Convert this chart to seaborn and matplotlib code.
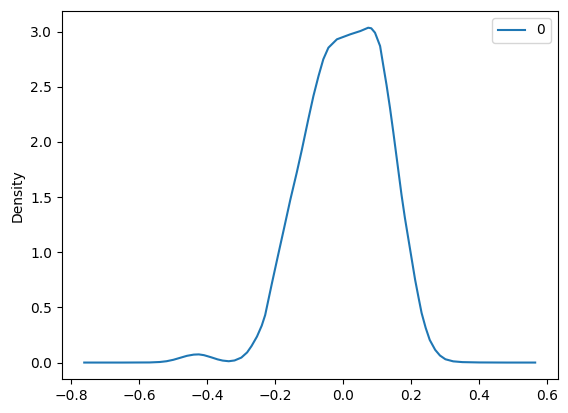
import numpy as np
import pandas as pd
import matplotlib
matplotlib.use("Agg")
import matplotlib.pyplot as plt
import seaborn as sns

# kde curve (x, density)
x_vals = [-0.762, -0.65, -0.57, -0.54, -0.52, -0.50, -0.48, -0.46, -0.44, -0.425,
          -0.41, -0.39, -0.37, -0.355, -0.337, -0.32, -0.30, -0.283, -0.27, -0.254,
          -0.24, -0.23, -0.21, -0.1915, -0.174, -0.156, -0.137, -0.122, -0.103, -0.088,
          -0.073, -0.059, -0.044, -0.019, 0.020, 0.050, 0.073, 0.082, 0.093, 0.108,
          0.117, 0.127, 0.137, 0.147, 0.157, 0.171, 0.181, 0.196, 0.211, 0.221,
          0.230, 0.242, 0.254, 0.270, 0.284, 0.300, 0.323, 0.350, 0.400, 0.480,
          0.564]
density = [0.0, 0.0, 0.001, 0.005, 0.012, 0.025, 0.043, 0.061, 0.072, 0.074,
           0.067, 0.049, 0.029, 0.018, 0.012, 0.019, 0.045, 0.092, 0.150, 0.236,
           0.335, 0.430, 0.720, 0.980, 1.223, 1.476, 1.723, 1.930, 2.207, 2.417,
           2.598, 2.749, 2.854, 2.930, 2.975, 3.005, 3.035, 3.03, 2.99, 2.869,
           2.700, 2.515, 2.310, 2.085, 1.850, 1.520, 1.310, 1.030, 0.750, 0.590,
           0.450, 0.315, 0.205, 0.115, 0.064, 0.030, 0.011, 0.004, 0.001, 0.0,
           0.0]

df = pd.DataFrame({"x": x_vals, "Density": density})

fig, ax = plt.subplots(figsize=(5.68, 4.13), dpi=100)
fig.subplots_adjust(left=0.1086, right=0.9819, top=0.9734, bottom=0.0816)

sns.lineplot(data=df, x="x", y="Density", ax=ax, color="#1f77b4",
             linewidth=1.5, label="0")

ax.set_xlabel("")
ax.set_ylabel("Density")
ax.legend(loc="upper right")

plt.savefig("out.png", dpi=100)
